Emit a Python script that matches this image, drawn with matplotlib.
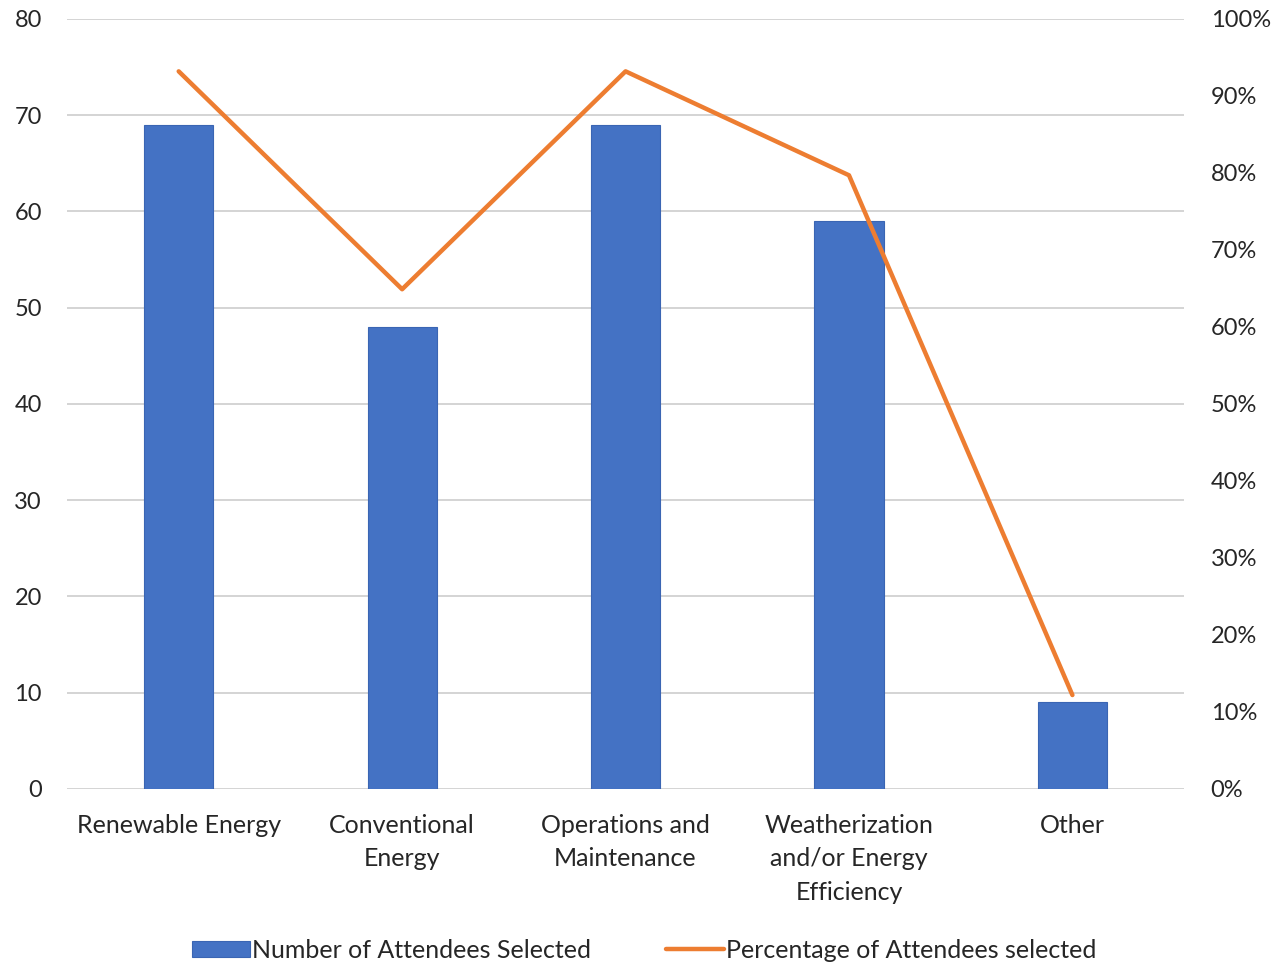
import matplotlib
matplotlib.use('Agg')
import matplotlib.pyplot as plt
import numpy as np

plt.rcParams['font.family'] = ['Lato', 'DejaVu Sans']

categories = ["Renewable Energy", "Conventional\nEnergy", "Operations and\nMaintenance",
              "Weatherization\nand/or Energy\nEfficiency", "Other"]
attendees = [69, 48, 69, 59, 9]
percent = [93.2, 64.9, 93.2, 79.7, 12.2]

BLUE, ORANGE, GRID, TXT = '#4472C4', '#ED7D31', '#d4d4d4', '#262626'

fig = plt.figure(figsize=(12.76, 9.63), dpi=100)
ax = fig.add_axes([0.0525, 0.1807, 0.8755, 0.7996])
ax2 = ax.twinx()

x = np.arange(len(categories))
bars = ax.bar(x, attendees, width=0.31, color=BLUE, edgecolor='#3a65b3', linewidth=0.8,
              label='Number of Attendees Selected', zorder=3)
ln, = ax2.plot(x, percent, color=ORANGE, lw=3.2, solid_capstyle='round',
               label='Percentage of Attendees selected', zorder=4)

ax.set_xlim(-0.5, 4.5)
ax.set_ylim(0, 80)
ax.set_yticks(range(0, 81, 10))
ax2.set_ylim(0, 100)
ax2.set_yticks(range(0, 101, 10))
ax2.set_yticklabels([f"{v}%" for v in range(0, 101, 10)])
ax.yaxis.grid(True, color=GRID, lw=1.4, zorder=0)
ax.set_axisbelow(True)
ax.set_xticks(x)
ax.set_xticklabels(categories, linespacing=1.55)

for a in (ax, ax2):
    for s in a.spines.values():
        s.set_visible(False)
    a.tick_params(length=0, labelsize=17, colors=TXT)
ax.tick_params(axis='x', labelsize=18, pad=18)
ax.tick_params(axis='y', pad=18)
ax2.tick_params(axis='y', pad=19)
ax.set_zorder(ax2.get_zorder() - 1)
ax.patch.set_visible(False)

fig.legend([bars, ln], ['Number of Attendees Selected', 'Percentage of Attendees selected'],
           loc='lower center', bbox_to_anchor=(0.505, -0.022), ncol=2, frameon=False,
           fontsize=18, handlelength=2.3, handleheight=0.6, handletextpad=0.1,
           columnspacing=3.0, labelcolor=TXT)

fig.savefig('out.png', dpi=100)
